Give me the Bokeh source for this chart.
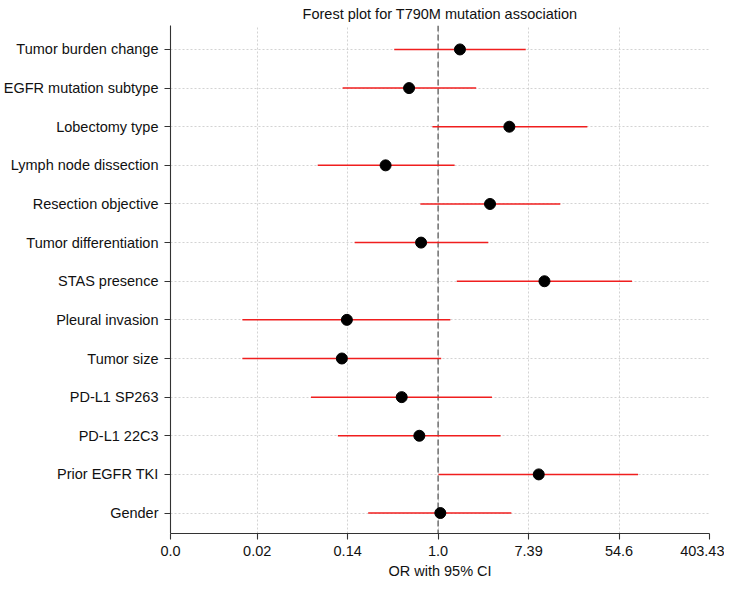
import numpy as np
from bokeh.plotting import figure
from bokeh.models import Range1d, FixedTicker, Span, ColumnDataSource
from bokeh.embed import file_html
from bokeh.resources import INLINE

# ---- data (bottom row first) ----
variables = ["Gender", "Prior EGFR TKI", "PD-L1 22C3", "PD-L1 SP263", "Tumor size",
             "Pleural invasion", "STAS presence", "Tumor differentiation",
             "Resection objective", "Lymph node dissection", "Lobectomy type",
             "EGFR mutation subtype", "Tumor burden change"]
odds_ratio = [1.05, 9.25, 0.66, 0.447, 0.119, 0.133, 10.5, 0.686, 3.15, 0.313, 4.83, 0.526, 1.62]
ci_lower = [0.213, 1.007, 0.109, 0.0601, 0.0132, 0.0132, 1.51, 0.158, 0.675, 0.0698, 0.881, 0.121, 0.379]
ci_upper = [5.05, 83.2, 3.98, 3.29, 1.07, 1.31, 72.8, 3.03, 14.9, 1.44, 27.1, 2.32, 6.94]
tick_values = [0.002693, 0.018316, 0.135335, 1.0, 7.389056, 54.59815, 403.4288]
tick_labels = ["0.0", "0.02", "0.14", "1.0", "7.39", "54.6", "403.43"]
x_label = "OR with 95% CI"
title_text = "Forest plot for T790M mutation association"

FONT = "Liberation Sans"
FS = "14.5px"

rows = list(range(len(variables)))
src = ColumnDataSource(dict(y=rows, orv=odds_ratio, lo=ci_lower, hi=ci_upper))

p = figure(width=724, height=581, output_backend="svg", toolbar_location=None,
           x_axis_type="log",
           x_range=Range1d(tick_values[0], tick_values[-1]),
           y_range=Range1d(-0.53, len(variables) - 1 + 0.62),
           title=title_text,
           min_border_right=15, min_border_top=2, min_border_bottom=2,
           min_border_left=164)

p.outline_line_color = None
p.background_fill_color = "white"

# title
p.title.text_font = FONT
p.title.text_font_size = FS
p.title.text_font_style = "normal"
p.title.text_color = "#111111"
p.title.align = "center"
p.title.standoff = 7

# grids
for g in (p.xgrid, p.ygrid):
    g.grid_line_color = "#c8c8c8"
    g.grid_line_dash = "2 2"
    g.grid_line_width = 0.8

# reference line at OR = 1
ref = Span(location=1.0, dimension="height", line_color="#777777",
           line_dash="6 3", line_width=1.6, level="underlay")
p.add_layout(ref)

# CI lines and points
p.segment(x0="lo", y0="y", x1="hi", y1="y", source=src, line_color="#f01e1e", line_width=1.5)
p.scatter(x="orv", y="y", source=src, size=11, fill_color="black", line_color="black")

# axes
p.xaxis.ticker = FixedTicker(ticks=tick_values)
p.xaxis.major_label_overrides = {v: l for v, l in zip(tick_values, tick_labels)}
p.yaxis.ticker = FixedTicker(ticks=rows)
p.yaxis.major_label_overrides = {i: v for i, v in zip(rows, variables)}
p.xaxis.axis_label = x_label

for ax in (p.xaxis[0], p.yaxis[0]):
    ax.axis_line_color = "#333333"
    ax.axis_line_width = 1.1
    ax.major_tick_line_color = "#333333"
    ax.major_tick_line_width = 1.1
    ax.major_tick_in = 0
    ax.major_tick_out = 6
    ax.minor_tick_line_color = None
    ax.major_label_text_font = FONT
    ax.major_label_text_font_size = FS
    ax.major_label_text_color = "#111111"
    ax.major_label_standoff = 6
    ax.axis_label_text_font = FONT
    ax.axis_label_text_font_size = FS
    ax.axis_label_text_font_style = "normal"
    ax.axis_label_text_color = "#111111"
    ax.axis_label_standoff = 4

open("out.html", "w").write(file_html(p, INLINE))
